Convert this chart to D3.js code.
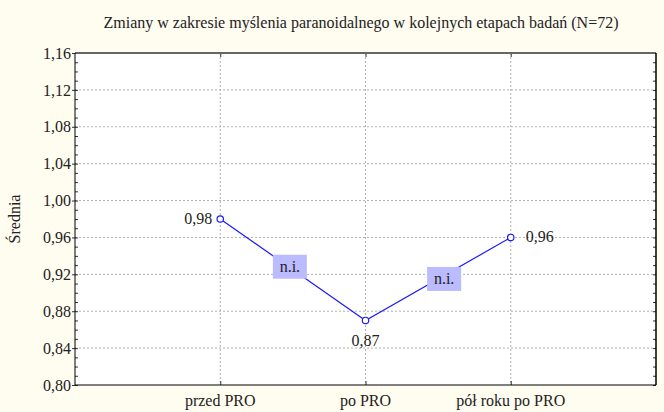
<!DOCTYPE html>
<html>
<head>
<meta charset="utf-8">
<script src="https://cdnjs.cloudflare.com/ajax/libs/d3/7.8.5/d3.min.js"></script>
<style>
  body { margin: 0; }
  svg text { font-family: "Liberation Serif", "DejaVu Serif", serif; font-size: 16px; fill: #222; }
</style>
</head>
<body>
<div id="chart"></div>
<script>
// data
var categories = ["przed PRO", "po PRO", "pół roku po PRO"];
var means = [0.98, 0.87, 0.96];
var meanLabels = ["0,98", "0,87", "0,96"];
var yTicks = [0.80, 0.84, 0.88, 0.92, 0.96, 1.00, 1.04, 1.08, 1.12, 1.16];
var segmentNotes = ["n.i.", "n.i."];

var width = 664,
	height = 412;
var margin = {top: 53, right: 8, bottom: 27, left: 75};

var svg = d3.select("#chart").append("svg")
	.attr("width", width)
	.attr("height", height)
	.style("background-color", "#fffcf0");

var x = d3.scaleLinear()
	.domain([0, categories.length + 1])
	.range([margin.left, width - margin.right]);

var y = d3.scaleLinear()
	.domain([0.80, 1.16])
	.range([height - margin.bottom, margin.top]);

var fmt = function(v) { return d3.format(".2f")(v).replace(".", ","); };

// plot background
svg.append("rect")
	.attr("x", x(0)).attr("y", y(1.16))
	.attr("width", x(4) - x(0)).attr("height", y(0.80) - y(1.16))
	.style("fill", "white");

// grid
svg.append("g").selectAll("line")
	.data(yTicks.slice(1, -1))
	.enter().append("line")
	.attr("x1", x(0)).attr("x2", x(4))
	.attr("y1", function(d) { return y(d); })
	.attr("y2", function(d) { return y(d); })
	.style("stroke", "#b0b0b0")
	.style("stroke-dasharray", "2,2")
	.style("stroke-width", 1);

svg.append("g").selectAll("line")
	.data(categories)
	.enter().append("line")
	.attr("x1", function(d, i) { return x(i + 1); })
	.attr("x2", function(d, i) { return x(i + 1); })
	.attr("y1", y(1.16)).attr("y2", y(0.80))
	.style("stroke", "#b0b0b0")
	.style("stroke-dasharray", "2,2")
	.style("stroke-width", 1);

// left axis
var minor = d3.range(0, 37).map(function(i) { return 0.80 + i * 0.01; });
svg.append("g")
	.attr("transform", "translate(" + x(0) + ",0)")
	.call(d3.axisRight(y).tickValues(minor).tickSize(3).tickFormat(""))
	.call(function(g) { g.select(".domain").remove(); });

svg.append("g")
	.attr("transform", "translate(" + x(0) + ",0)")
	.call(d3.axisLeft(y).tickValues(yTicks).tickSize(3).tickPadding(1).tickFormat(fmt))
	.call(function(g) {
		g.select(".domain").remove();
		g.attr("font-family", null).attr("font-size", null);
	});

// right axis
svg.append("g")
	.attr("transform", "translate(" + x(4) + ",0)")
	.call(d3.axisLeft(y).tickValues(minor).tickSize(3).tickFormat(""))
	.call(function(g) { g.select(".domain").remove(); });

// bottom and top axes
svg.append("g")
	.attr("transform", "translate(0," + y(0.80) + ")")
	.call(d3.axisTop(x).tickValues([1, 2, 3]).tickSize(4).tickFormat(""))
	.call(function(g) { g.select(".domain").remove(); });

svg.append("g")
	.attr("transform", "translate(0," + y(1.16) + ")")
	.call(d3.axisBottom(x).tickValues([1, 2, 3]).tickSize(4).tickFormat(""))
	.call(function(g) { g.select(".domain").remove(); });

svg.append("g").selectAll("text")
	.data(categories)
	.enter().append("text")
	.attr("x", function(d, i) { return x(i + 1); })
	.attr("y", y(0.80) + 21)
	.style("text-anchor", "middle")
	.text(function(d) { return d; });

// frame
svg.append("line")
	.attr("x1", x(0)).attr("x2", x(4)).attr("y1", y(1.16)).attr("y2", y(1.16))
	.style("stroke", "#666").style("stroke-width", 2);
svg.append("line")
	.attr("x1", x(0)).attr("x2", x(4)).attr("y1", y(0.80)).attr("y2", y(0.80))
	.style("stroke", "black").style("stroke-width", 1);
svg.append("line")
	.attr("x1", x(0)).attr("x2", x(0)).attr("y1", y(1.16)).attr("y2", y(0.80))
	.style("stroke", "black").style("stroke-width", 1);
svg.append("line")
	.attr("x1", x(4)).attr("x2", x(4)).attr("y1", y(1.16)).attr("y2", y(0.80))
	.style("stroke", "black").style("stroke-width", 1.5);

svg.selectAll(".tick line").style("stroke", "#333");

// line
var line = d3.line()
	.x(function(d, i) { return x(i + 1); })
	.y(function(d) { return y(d); });

svg.append("path")
	.datum(means)
	.attr("d", line)
	.style("fill", "none")
	.style("stroke", "#1a1aff")
	.style("stroke-width", 1.2);

// n.i. boxes near segment midpoints
var noteShift = [[-3, -3], [6, 0]];
var notes = svg.append("g").selectAll("g")
	.data(segmentNotes)
	.enter().append("g")
	.attr("transform", function(d, i) {
		var mx = (x(i + 1) + x(i + 2)) / 2 + noteShift[i][0],
			my = (y(means[i]) + y(means[i + 1])) / 2 + noteShift[i][1];
		return "translate(" + mx + "," + my + ")";
	});

notes.append("rect")
	.attr("x", -17).attr("y", -12)
	.attr("width", 34).attr("height", 24)
	.style("fill", "#bbbbff");

notes.append("text")
	.attr("dy", 5)
	.style("text-anchor", "middle")
	.text(function(d) { return d; });

// points
svg.append("g").selectAll("circle")
	.data(means)
	.enter().append("circle")
	.attr("cx", function(d, i) { return x(i + 1); })
	.attr("cy", function(d) { return y(d); })
	.attr("r", 3.2)
	.style("fill", "white")
	.style("stroke", "#1a1aff")
	.style("stroke-width", 1.2);

// value labels
var labelPos = [
	{dx: -8, dy: 5, anchor: "end"},
	{dx: 0, dy: 26, anchor: "middle"},
	{dx: 15, dy: 5, anchor: "start"}
];
svg.append("g").selectAll("text")
	.data(means)
	.enter().append("text")
	.attr("x", function(d, i) { return x(i + 1) + labelPos[i].dx; })
	.attr("y", function(d, i) { return y(d) + labelPos[i].dy; })
	.style("text-anchor", function(d, i) { return labelPos[i].anchor; })
	.text(function(d, i) { return meanLabels[i]; });

// title and y label
svg.append("text")
	.attr("x", 361).attr("y", 28)
	.style("text-anchor", "middle")
	.text("Zmiany w zakresie myślenia paranoidalnego w kolejnych etapach badań (N=72)");

svg.append("text")
	.attr("transform", "translate(20," + y(0.98) + ") rotate(-90)")
	.style("text-anchor", "middle")
	.text("Średnia");
</script>
</body>
</html>
